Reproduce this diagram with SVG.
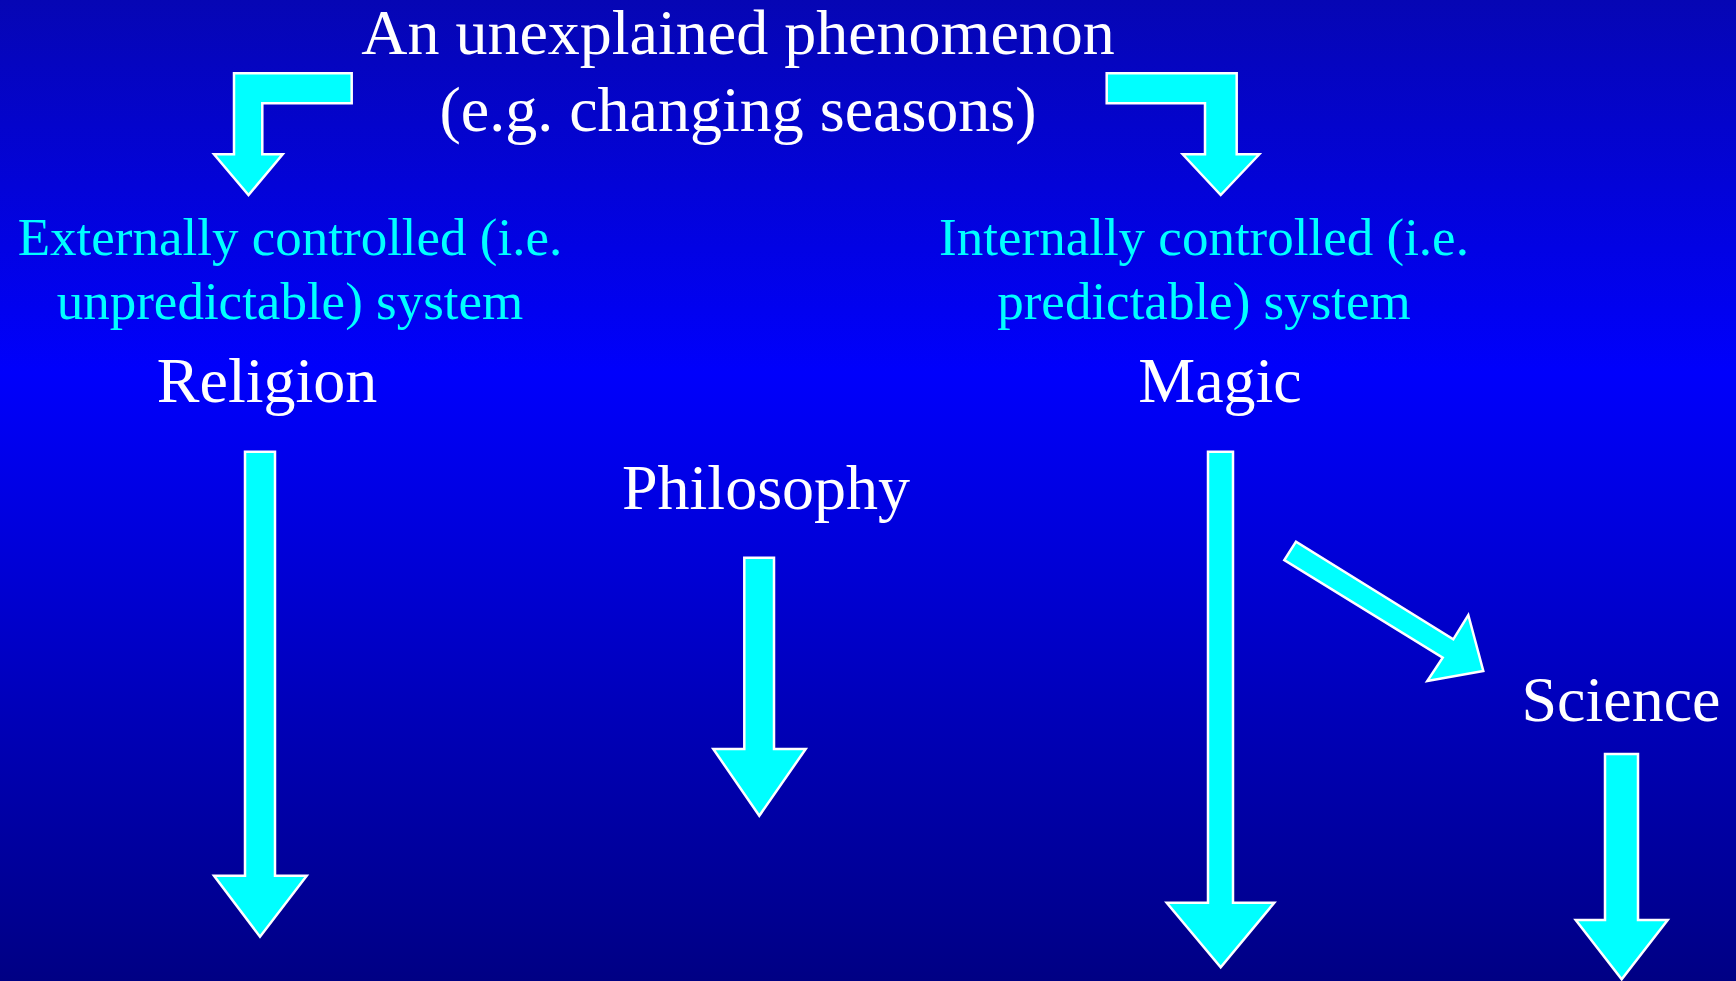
<svg xmlns="http://www.w3.org/2000/svg" width="1736" height="981" viewBox="0 0 1736 981">
<defs>
<linearGradient id="bg" x1="0" y1="0" x2="0" y2="1">
<stop offset="0" stop-color="#0606b4"/>
<stop offset="0.38" stop-color="#0000fc"/>
<stop offset="1" stop-color="#000084"/>
</linearGradient>
</defs>
<style>
.arrow{fill:#00ffff;stroke:#ffffff;stroke-width:2.5;stroke-linejoin:miter}
.w{fill:#ffffff;font-family:"Liberation Serif","Times New Roman",serif;font-size:64px;text-anchor:middle}
.c{fill:#00ffff;font-family:"Liberation Serif","Times New Roman",serif;font-size:53px;text-anchor:middle}
</style>
<rect x="0" y="0" width="1736" height="981" fill="url(#bg)"/>
<g id="connectors">
<polygon class="arrow" points="351.7,73.3 234,73.3 234,154.3 214,154.3 248.5,195 282.7,154.3 262.3,154.3 262.3,103.3 351.7,103.3"/>
<polygon class="arrow" points="1106.7,73.3 1236.7,73.3 1236.7,154.3 1259.3,154.3 1220.7,195 1182.7,154.3 1205,154.3 1205,103.3 1106.7,103.3"/>
<polygon class="arrow" points="1296,541.7 1284.3,560 1442.7,657.7 1427.3,681 1483.3,671 1468.3,615 1453.3,639.3"/>
<polygon class="arrow" points="245,451.7 275,451.7 275,875.7 306.7,875.7 260,936.7 214,875.7 245,875.7"/>
<polygon class="arrow" points="744.3,557.7 774,557.7 774,749 805.7,749 759.3,815.7 713.3,749 744.3,749"/>
<polygon class="arrow" points="1208,451.7 1233,451.7 1233,902.7 1274.3,902.7 1220.7,967.3 1166.7,902.7 1208,902.7"/>
<polygon class="arrow" points="1605,754 1638,754 1638,920 1667.7,920 1621.7,979.3 1575.7,920 1605,920"/>
</g>
<g id="phenomenon">
<text class="w" x="738" y="54">An unexplained phenomenon</text>
<text class="w" x="738" y="131">(e.g. changing seasons)</text>
</g>
<g id="external">
<text class="c" x="290" y="255">Externally controlled (i.e.</text>
<text class="c" x="290" y="319">unpredictable) system</text>
</g>
<g id="internal">
<text class="c" x="1204" y="255">Internally controlled (i.e.</text>
<text class="c" x="1204" y="319">predictable) system</text>
</g>
<g id="religion"><text class="w" x="267" y="402">Religion</text></g>
<g id="magic"><text class="w" x="1220" y="402">Magic</text></g>
<g id="philosophy"><text class="w" x="766" y="509">Philosophy</text></g>
<g id="science"><text class="w" x="1621" y="721">Science</text></g>
</svg>
